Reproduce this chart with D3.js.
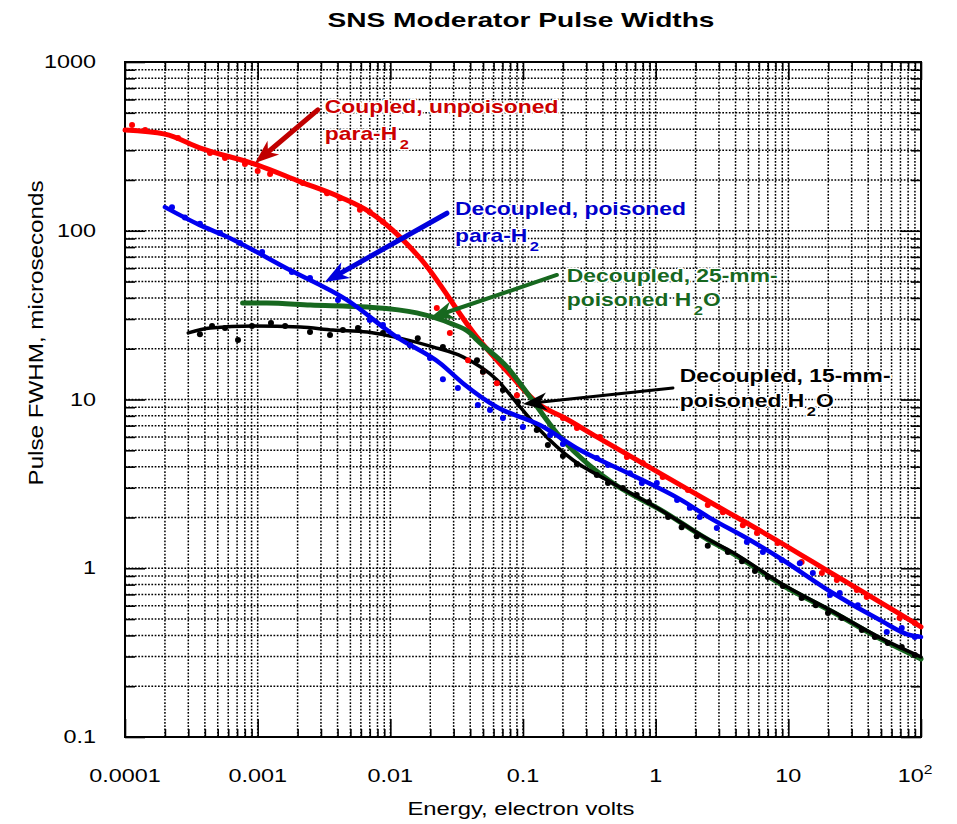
<!DOCTYPE html>
<html><head><meta charset="utf-8">
<script src="https://cdn.jsdelivr.net/npm/d3@7"></script>
<style>
body{margin:0;background:#fff}
svg{display:block;background:#fff}
text{font-family:"Liberation Sans",Arial,Helvetica,sans-serif}
</style>
</head><body>
<svg id="c" width="957" height="824"></svg>
<script>
// ---------------- data ----------------
const xTickValues = [1e-4, 1e-3, 1e-2, 0.1, 1, 10, 100];
const xTickLabels = ["0.0001", "0.001", "0.01", "0.1", "1", "10", "10^2"];
const yTickValues = [0.1, 1, 10, 100, 1000];
const yTickLabels = ["0.1", "1", "10", "100", "1000"];

// Coupled, unpoisoned para-H2 (red)
const redLine = [[0.0001,395],[0.0002,374],[0.00037,309],[0.001,245],[0.0021,195],[0.0042,158],[0.007,129],[0.0118,92],[0.0167,69],[0.045,23.4],[0.08,14],[0.134,9.27],[0.2,7.87],[0.36,6.0],[1.21,3.47],[2.56,2.47],[8.6,1.43],[21.6,0.925],[69,0.536],[100,0.449]];
const redDots = [[0.000113,424],[0.000142,395],[0.000251,355],[0.000437,289],[0.000567,270],[0.000802,249],[0.001,226],[0.00124,217],[0.00219,192],[0.00333,167],[0.00417,156],[0.0059,133],[0.007,129],[0.0088,113],[0.0224,34.8],[0.0281,24.8],[0.0385,17.1],[0.0499,14.6],[0.0635,12.5],[0.09,10.6],[0.2,7.77],[0.255,6.78],[0.38,6.0],[0.607,4.56],[0.80,4.2],[1.13,3.47],[1.75,2.91],[2.47,2.37],[3.21,2.15],[4.54,1.80],[5.8,1.62],[8.3,1.41],[12.6,1.09],[17.9,0.937],[23.2,0.851],[32.8,0.743],[39,0.676],[69,0.507],[89.8,0.474]];

// Decoupled, poisoned para-H2 (blue)
const blueLine = [[0.0002,138],[0.000367,108],[0.00055,94.4],[0.00175,58.5],[0.0047,38.9],[0.0112,23.4],[0.0237,16.4],[0.0352,12.5],[0.0635,9.03],[0.134,7.06],[0.269,5.02],[0.64,3.62],[1.52,2.57],[2.56,1.99],[5.13,1.47],[8.6,1.15],[21.6,0.713],[49,0.493],[82,0.402],[100,0.392]];
const blueDots = [[0.000226,138],[0.000283,120],[0.000367,110],[0.00052,97],[0.000736,84.6],[0.00108,74.8],[0.00181,57],[0.00248,52.5],[0.00403,38.9],[0.007,29.6],[0.0088,27.6],[0.0114,23.4],[0.0141,21.0],[0.0199,17.6],[0.0249,13.2],[0.0323,11.7],[0.0457,9.27],[0.0564,8.67],[0.0706,7.77],[0.0998,6.87],[0.16,6.17],[0.2,5.45],[0.36,4.5],[0.437,4.09],[0.64,3.66],[0.787,3.2],[1.02,3.2],[1.45,2.54],[1.81,2.28],[2.15,2.01],[2.89,1.73],[4.87,1.43],[6.43,1.25],[8.93,1.12],[12.2,1.07],[15.3,0.937],[20.6,0.694],[24.4,0.713],[33.4,0.604],[55.2,0.419],[71.6,0.443],[89.8,0.392]];

// Decoupled, 25-mm-poisoned H2O (green)
const greenLine = [[0.00077,37.3],[0.00117,37.3],[0.0025,36.3],[0.0067,35.3],[0.0158,32.6],[0.028,28.4],[0.0398,24.8],[0.045,22.5],[0.0757,15.6],[0.113,10.35],[0.18,6.33],[0.269,4.56],[0.475,3.2],[1.13,2.18],[2.43,1.49],[3.82,1.22],[9.1,0.79],[21.6,0.55],[51.5,0.375],[100,0.29]];

// Decoupled, 15-mm-poisoned H2O (black)
const blackLine = [[0.0003,24.8],[0.00044,26.5],[0.00092,27.3],[0.0021,26.9],[0.0037,25.8],[0.0067,25.1],[0.0118,23.1],[0.0209,20.5],[0.0352,17.9],[0.0635,13.1],[0.095,9.03],[0.134,6.6],[0.238,4.38],[0.43,3.33],[1.13,2.18],[2.43,1.50],[3.82,1.24],[9.1,0.80],[21.6,0.555],[51.5,0.38],[100,0.298]];
const blackDots = [[0.000367,24.4],[0.000453,27.3],[0.000567,26.5],[0.000711,22.5],[0.000906,27.3],[0.00126,28.4],[0.00161,27.3],[0.00248,25.1],[0.00351,24.1],[0.00439,25.8],[0.0057,26.5],[0.0088,24.8],[0.0141,21.0],[0.0161,23.1],[0.0249,20.5],[0.045,17.1],[0.0499,14.6],[0.0706,11.4],[0.0916,9.66],[0.127,6.6],[0.154,5.37],[0.2,4.62],[0.255,4.15],[0.36,3.57],[0.437,3.2],[0.566,2.99],[0.72,2.72],[0.889,2.47],[1.24,2.01],[1.57,1.75],[2.04,1.55],[2.47,1.36],[3.5,1.25],[4.47,1.10],[5.6,0.964],[7.0,0.887],[9.1,0.785],[12.6,0.667],[16.1,0.604],[19.9,0.543],[25.3,0.507],[35.8,0.431],[44.9,0.392],[56.2,0.360],[71.6,0.341],[89.8,0.306]];

// annotations (text anchor and arrow ends in data units)
const annotations = [
  {lines:["Coupled, unpoisoned","para-H_2"], at:[0.00321,499], color:"#cc0000", from:[0.00284,520], to:[0.000955,252], arrowColor:"#c00000", w:5, gap:27},
  {lines:["Decoupled, poisoned","para-H_2"], at:[0.0307,124], color:"#0000cc", from:[0.0267,127], to:[0.00321,49.7], arrowColor:"#0000dd", w:5, gap:27},
  {lines:["Decoupled, 25-mm-","poisoned H_2O"], at:[0.214,49.7], color:"#17681f", from:[0.18,54.7], to:[0.0199,30.4], arrowColor:"#17681f", w:4, gap:24},
  {lines:["Decoupled, 15-mm-","poisoned H_2O"], at:[1.52,12.7], color:"#000000", from:[1.35,11.7], to:[0.1,9.4], arrowColor:"#000000", w:3, gap:25}
];

// ---------------- drawing ----------------
const svg = d3.select("#c");
const M = {l:125, r:921, t:62, b:737};
const x = d3.scaleLog().domain([1e-4, 100]).range([M.l, M.r]);
const y = d3.scaleLog().domain([0.1, 1000]).range([M.b, M.t]);
const isMajor = d => Math.abs(Math.log10(d) - Math.round(Math.log10(d))) < 1e-6;
const SX = 1.3;

// grid
const grid = svg.append("g").attr("stroke","#000").attr("stroke-width",1.5).attr("stroke-dasharray","1.7,1.6");
grid.selectAll(".gx").data(x.ticks().filter(d=>x(d)>M.l+1 && x(d)<M.r-1)).join("line")
  .attr("x1",d=>x(d)).attr("x2",d=>x(d)).attr("y1",M.t).attr("y2",M.b);
grid.selectAll(".gy").data(y.ticks().filter(d=>y(d)>M.t+1 && y(d)<M.b-1)).join("line")
  .attr("y1",d=>y(d)).attr("y2",d=>y(d)).attr("x1",M.l).attr("x2",M.r);

// axes ticks (inward), major and minor
function styleAxis(g){ g.select(".domain").remove(); g.selectAll("line").attr("stroke","#000").attr("stroke-width",1.6); }
const xMinor = x.ticks().filter(d=>!isMajor(d)), xMajor = x.ticks().filter(isMajor);
const yMinor = y.ticks().filter(d=>!isMajor(d)), yMajor = y.ticks().filter(isMajor);
svg.append("g").attr("transform",`translate(0,${M.b})`).call(d3.axisBottom(x).tickValues(xMinor).tickSize(-8).tickFormat("")).call(styleAxis);
svg.append("g").attr("transform",`translate(0,${M.b})`).call(d3.axisBottom(x).tickValues(xMajor).tickSize(-18).tickFormat("")).call(styleAxis);
svg.append("g").attr("transform",`translate(0,${M.t})`).call(d3.axisTop(x).tickValues(xMinor).tickSize(-9).tickFormat("")).call(styleAxis);
svg.append("g").attr("transform",`translate(0,${M.t})`).call(d3.axisTop(x).tickValues(xMajor).tickSize(-18).tickFormat("")).call(styleAxis);
svg.append("g").attr("transform",`translate(${M.l},0)`).call(d3.axisLeft(y).tickValues(yMinor).tickSize(-10).tickFormat("")).call(styleAxis);
svg.append("g").attr("transform",`translate(${M.l},0)`).call(d3.axisLeft(y).tickValues(yMajor).tickSize(-20).tickFormat("")).call(styleAxis);
svg.append("g").attr("transform",`translate(${M.r},0)`).call(d3.axisRight(y).tickValues(yMinor).tickSize(-10).tickFormat("")).call(styleAxis);
svg.append("g").attr("transform",`translate(${M.r},0)`).call(d3.axisRight(y).tickValues(yMajor).tickSize(-20).tickFormat("")).call(styleAxis);

// frame
svg.append("rect").attr("x",M.l).attr("y",M.t).attr("width",M.r-M.l).attr("height",M.b-M.t)
  .attr("fill","none").attr("stroke","#000").attr("stroke-width",2);

// tick labels
xTickValues.forEach((v,i)=>{
  const lab = xTickLabels[i];
  const g = svg.append("g").attr("transform",`translate(${x(v) + (lab.includes("^")?-6:0)},782) scale(${SX},1)`);
  const t = g.append("text").attr("text-anchor","middle").attr("font-size",18).attr("fill","#000");
  if(lab.includes("^")){
    const [b,e] = lab.split("^");
    t.append("tspan").text(b);
    t.append("tspan").attr("font-size",12).attr("dy",-8).text(e);
  } else t.text(lab);
});
yTickValues.forEach((v,i)=>{
  svg.append("g").attr("transform",`translate(96,${y(v)+6}) scale(${SX},1)`)
    .append("text").attr("text-anchor","end").attr("font-size",18).attr("fill","#000").text(yTickLabels[i]);
});

// titles
svg.append("text").attr("x",521).attr("y",27).attr("text-anchor","middle").attr("font-size",21)
  .attr("font-weight","bold").attr("textLength",387).attr("lengthAdjust","spacingAndGlyphs").text("SNS Moderator Pulse Widths");
svg.append("text").attr("x",521).attr("y",815).attr("text-anchor","middle").attr("font-size",18)
  .attr("textLength",227).attr("lengthAdjust","spacingAndGlyphs").text("Energy, electron volts");
svg.append("text").attr("transform","translate(43,333) rotate(-90)").attr("text-anchor","middle").attr("font-size",21)
  .attr("textLength",305).attr("lengthAdjust","spacingAndGlyphs").text("Pulse FWHM, microseconds");

// series
const line = d3.line().x(d=>x(d[0])).y(d=>y(d[1])).curve(d3.curveMonotoneX);
const plot = svg.append("g");
function drawLine(data,color,w){
  plot.append("path").attr("d",line(data)).attr("fill","none").attr("stroke",color)
    .attr("stroke-width",w).attr("stroke-linejoin","round").attr("stroke-linecap","round");
}
function drawDots(data,color){
  plot.append("g").selectAll("circle").data(data).join("circle")
    .attr("cx",d=>x(d[0])).attr("cy",d=>y(d[1])).attr("r",3).attr("fill",color);
}
drawLine(redLine,"#ff0000",5);
drawLine(greenLine,"#17681f",5);
drawLine(blackLine,"#000000",3.5);
drawLine(blueLine,"#0000f0",4.5);
drawDots(redDots,"#ff0000");
drawDots(blackDots,"#000000");
drawDots(blueDots,"#0000f0");

// annotations
const ann = svg.append("g");
annotations.forEach(a=>{
  const x1=x(a.from[0]), y1=y(a.from[1]), x2=x(a.to[0]), y2=y(a.to[1]);
  const ang = Math.atan2(y2-y1, x2-x1);
  const L = 24, Wd = 9;
  const sx2 = x2 - Math.cos(ang)*14, sy2 = y2 - Math.sin(ang)*14;
  ann.append("line").attr("x1",x1).attr("y1",y1).attr("x2",sx2).attr("y2",sy2)
    .attr("stroke",a.arrowColor).attr("stroke-width",a.w).attr("stroke-linecap","round");
  const deg = ang*180/Math.PI;
  ann.append("path").attr("d",`M0,0 L${-L},${-Wd} L${-L+7},0 L${-L},${Wd} Z`)
    .attr("transform",`translate(${x2},${y2}) rotate(${deg})`).attr("fill",a.arrowColor);

  const g = ann.append("g").attr("transform",`translate(${x(a.at[0])},${y(a.at[1])}) scale(1.27,1)`);
  a.lines.forEach((ln,i)=>{
    const t = g.append("text").attr("y",i*a.gap).attr("font-size",18).attr("font-weight","bold")
      .attr("fill",a.color).attr("stroke","#fff").attr("stroke-width",3).attr("paint-order","stroke")
      .attr("stroke-linejoin","round");
    const parts = ln.split("_");
    t.append("tspan").text(parts[0]);
    for(let k=1;k<parts.length;k++){
      t.append("tspan").attr("font-size",13).attr("dx",2).attr("dy",9).text(parts[k][0]);
      if(parts[k].length>1) t.append("tspan").attr("dy",-9).text(parts[k].slice(1));
    }
  });
});
</script>
</body></html>
